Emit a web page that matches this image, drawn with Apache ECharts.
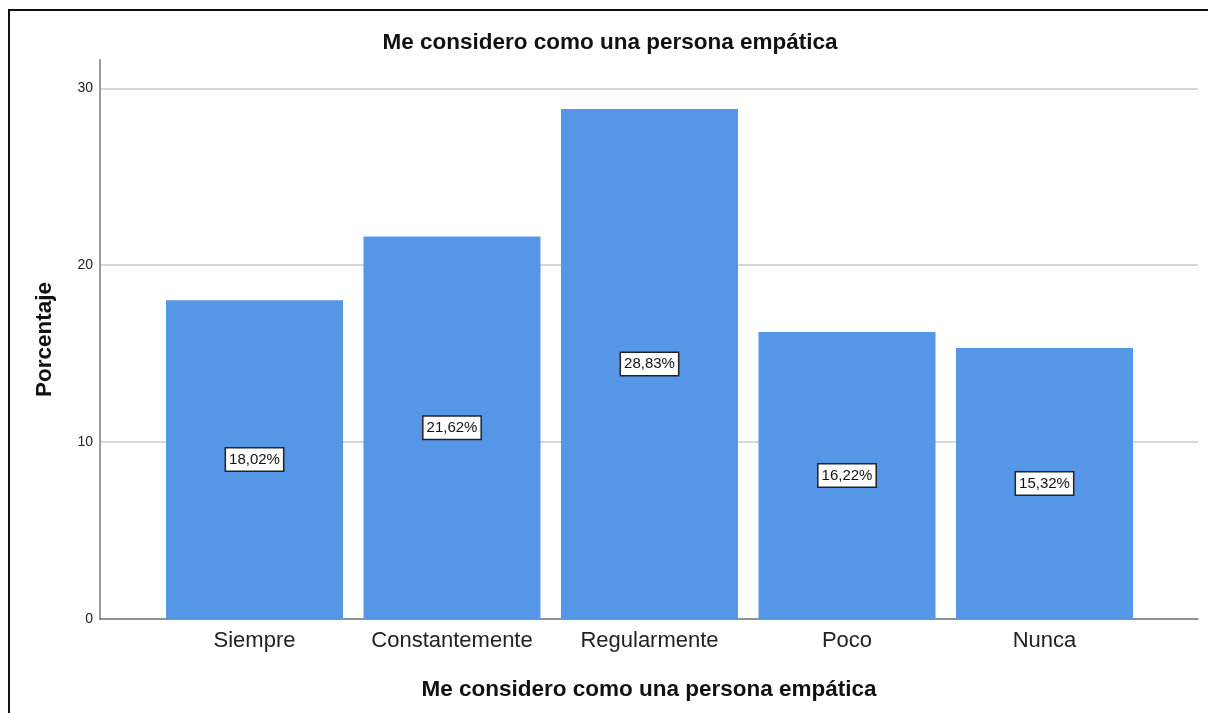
<!DOCTYPE html>
<html>
<head>
<meta charset="utf-8">
<script src="https://cdn.jsdelivr.net/npm/echarts@6/dist/echarts.min.js"></script>
<style>
html,body{margin:0;padding:0;background:#fff;}
#c{width:1208px;height:713px;}
</style>
</head>
<body>
<div id="c"></div>
<script>
const titleText = 'Me considero como una persona empática';
const categories = ['Siempre', 'Constantemente', 'Regularmente', 'Poco', 'Nunca'];
const percentValues = [18.02, 21.62, 28.83, 16.22, 15.32];
const yTicks = [0, 10, 20, 30];
const yAxisName = 'Porcentaje';
const xAxisName = 'Me considero como una persona empática';

const FONT = '"Liberation Sans", Arial, sans-serif';
const Y_MAX = 31.6;

const chart = echarts.init(document.getElementById('c'), null, {renderer: 'canvas'});
chart.setOption({
  backgroundColor: '#fff',
  animation: false,
  textStyle: {fontFamily: FONT},
  graphic: [
    {type: 'rect', shape: {x: 9, y: 10, width: 1400, height: 900}, style: {fill: 'none', stroke: '#111', lineWidth: 2}, z: 0, silent: true},
    {type: 'text', x: 610, y: 43, style: {text: titleText, font: 'bold 22.5px ' + FONT, fill: '#111', textAlign: 'center', textVerticalAlign: 'middle'}, z: 10}
  ],
  grid: [
    {left: 155.75, right: 64.75, top: 60, bottom: 94, containLabel: false, outerBoundsMode: 'none'},
    {left: 100, right: 10, top: 60, bottom: 94, containLabel: false, outerBoundsMode: 'none'}
  ],
  xAxis: [
    {
      type: 'category', gridIndex: 0, data: categories,
      axisLine: {show: false}, axisTick: {show: false},
      axisLabel: {interval: 0, fontSize: 22, color: '#222', margin: 11, fontFamily: FONT},
      splitLine: {show: false}
    },
    {
      type: 'value', gridIndex: 1, min: 0, max: 1,
      axisLine: {show: true, lineStyle: {color: '#6e6e6e', width: 1.5}},
      axisTick: {show: false}, axisLabel: {show: false}, splitLine: {show: false},
      name: xAxisName, nameLocation: 'middle', nameGap: 59,
      nameTextStyle: {fontSize: 22.5, fontWeight: 'bold', color: '#111', fontFamily: FONT}
    }
  ],
  yAxis: [
    {
      type: 'value', gridIndex: 0, min: 0, max: Y_MAX, interval: 10,
      show: false, splitLine: {show: false}
    },
    {
      type: 'value', gridIndex: 1, min: 0, max: Y_MAX, interval: 10,
      axisLine: {show: true, lineStyle: {color: '#9a9a9a', width: 2}},
      axisTick: {show: false},
      axisLabel: {
        fontSize: 14, color: '#222', margin: 7, fontFamily: FONT, showMaxLabel: false,
        formatter: v => (yTicks.indexOf(v) >= 0 ? String(v) : '')
      },
      splitLine: {show: true, showMaxLine: false, showMinLine: false, lineStyle: {color: '#d6d6d6', width: 2}},
      name: yAxisName, nameLocation: 'middle', nameGap: 44, nameRotate: 90,
      nameTextStyle: {fontSize: 22.5, fontWeight: 'bold', color: '#111', fontFamily: FONT}
    }
  ],
  series: [{
    type: 'bar', xAxisIndex: 0, yAxisIndex: 0,
    data: percentValues, barWidth: 177,
    itemStyle: {color: '#5596E6'},
    z: 3,
    label: {
      show: true, position: 'inside',
      formatter: p => p.value.toFixed(2).replace('.', ',') + '%',
      fontSize: 15, color: '#111', fontFamily: FONT,
      backgroundColor: '#fff', borderColor: '#222', borderWidth: 1.5,
      padding: [4, 3, 3, 3]
    }
  }]
});
</script>
</body>
</html>
